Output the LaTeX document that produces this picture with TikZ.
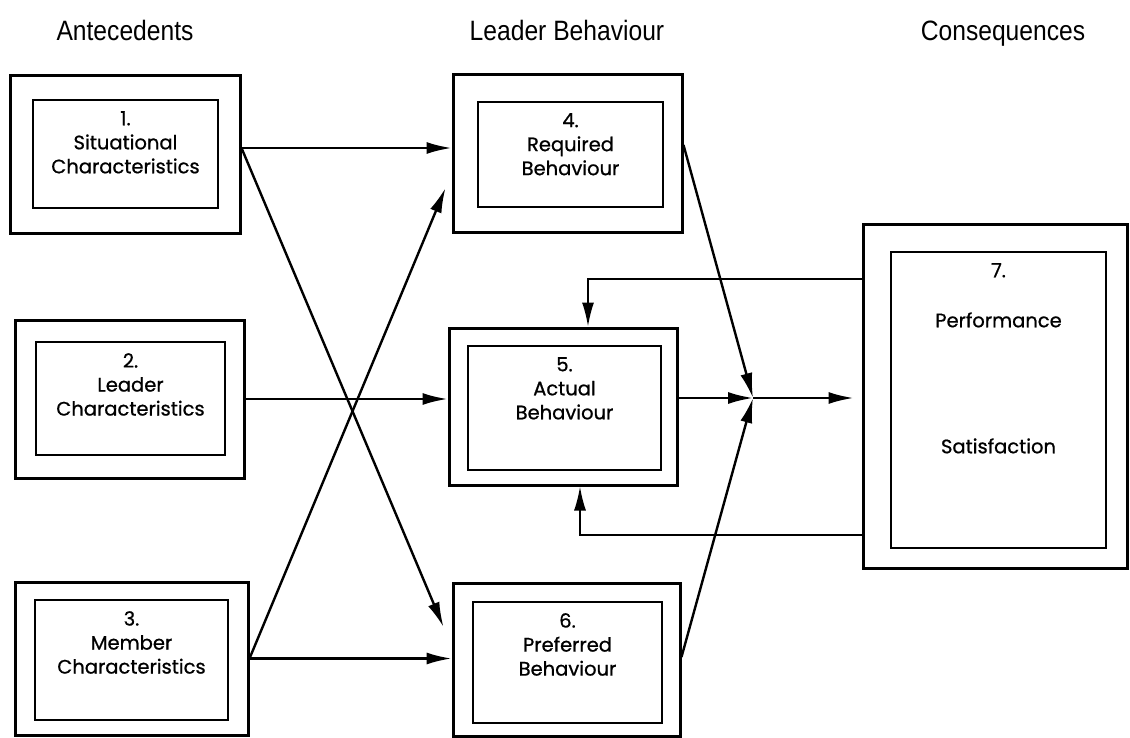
\documentclass[tikz,border=0pt]{standalone}
\usepackage{fontspec}
\usetikzlibrary{positioning,arrows.meta,calc}
\newfontfamily\boxfont[FakeBold=0.8]{Poppins}
\newfontfamily\headfont[FakeStretch=0.88]{Liberation Sans}
\tikzset{
  outbox/.style={draw, line width=3pt, inner sep=0pt},
  inbox/.style={draw, line width=2pt, inner sep=0pt},
  boxtext/.style={font=\boxfont\fontsize{19.5pt}{24pt}\selectfont, align=center, inner sep=0pt},
  heading/.style={font=\headfont\fontsize{28pt}{30pt}\selectfont, anchor=base},
  arr/.style={line width=2.4pt, -{Latex[length=25pt,width=12pt]}},
  fb/.style={line width=1.7pt, -{Latex[length=24pt,width=12pt]}}
}
\begin{document}
\begin{tikzpicture}[x=1pt,y=-1pt]
  \useasboundingbox (0,0) rectangle (1130,738);
  % column headings
  \node[heading] (hant) at (125,41) {Antecedents};
  \node[heading] (hlead) at (567,41) {Leader Behaviour};
  \node[heading] (hcons) at (1003,41) {Consequences};

  % antecedents
  \node[outbox, minimum width=230pt, minimum height=158pt] (b1) at (125,155) {};
  \node[inbox, minimum width=185pt, minimum height=108pt] (b1in) at (125.5,154) {};
  \node[boxtext, below=12pt of b1in.north] (t1) {1.\\Situational\\Characteristics};

  \node[outbox, minimum width=229pt, minimum height=158pt] (b2) at (129.5,399) {};
  \node[inbox, minimum width=189pt, minimum height=113pt] (b2in) at (130.5,398.5) {};
  \node[boxtext, below=12pt of b2in.north] (t2) {2.\\Leader\\Characteristics};

  \node[outbox, minimum width=233pt, minimum height=153pt] (b3) at (131.5,658.5) {};
  \node[inbox, minimum width=193pt, minimum height=120pt] (b3in) at (131.5,660) {};
  \node[boxtext, below=12pt of b3in.north] (t3) {3.\\Member\\Characteristics};

  % leader behaviour
  \node[outbox, minimum width=229pt, minimum height=158pt] (b4) at (567.5,154) {};
  \node[inbox, minimum width=185pt, minimum height=105pt] (b4in) at (570.5,154.5) {};
  \node[boxtext, below=12pt of b4in.north] (t4) {4.\\Required\\Behaviour};

  \node[outbox, minimum width=228pt, minimum height=157pt] (b5) at (563,406.5) {};
  \node[inbox, minimum width=193pt, minimum height=124pt] (b5in) at (564.5,408) {};
  \node[boxtext, below=12pt of b5in.north] (t5) {5.\\Actual\\Behaviour};

  \node[outbox, minimum width=227pt, minimum height=153pt] (b6) at (566.5,659.5) {};
  \node[inbox, minimum width=189pt, minimum height=121pt] (b6in) at (567.5,662.5) {};
  \node[boxtext, below=12pt of b6in.north] (t6) {6.\\Preferred\\Behaviour};

  % consequences
  \node[outbox, minimum width=264pt, minimum height=343pt] (b7) at (995,396.5) {};
  \node[inbox, minimum width=215pt, minimum height=296pt] (b7in) at (998.5,400) {};
  \node[boxtext, below=12pt of b7in.north] (t7) {7.\\[26pt]Performance\\[102pt]Satisfaction};

  \coordinate (jn) at (753,398);

  % antecedents -> leader behaviour
  \draw[arr] ([yshift=7pt]b1.east) -- ([yshift=7pt]b1.east -| b4.west);
  \draw[arr] ([yshift=7pt]b1.east) -- ([xshift=-8pt,yshift=32.5pt]b6.west);
  \draw[arr] (b2.east) -- (b2.east -| b5.west);
  \draw[arr] (b3.east) -- ([xshift=-6pt,yshift=-34pt]b4.west);
  \draw[arr] (b3.east) -- (b3.east -| b6.west);

  % leader behaviour -> consequences
  \draw[arr] ([yshift=9pt]b4.east) -- (jn);
  \draw[arr] (b5.east |- jn) -- (jn);
  \draw[arr] ([yshift=2.5pt]b6.east) -- (jn);
  \draw[arr, shorten >=8pt] (jn) -- (b7.west |- jn);

  % feedback
  \draw[fb] ([yshift=117.5pt]b7.west) -| ([xshift=25pt]b5.north);
  \draw[fb] ([yshift=-138.5pt]b7.west) -| ([xshift=17pt]b5.south);
\end{tikzpicture}
\end{document}
